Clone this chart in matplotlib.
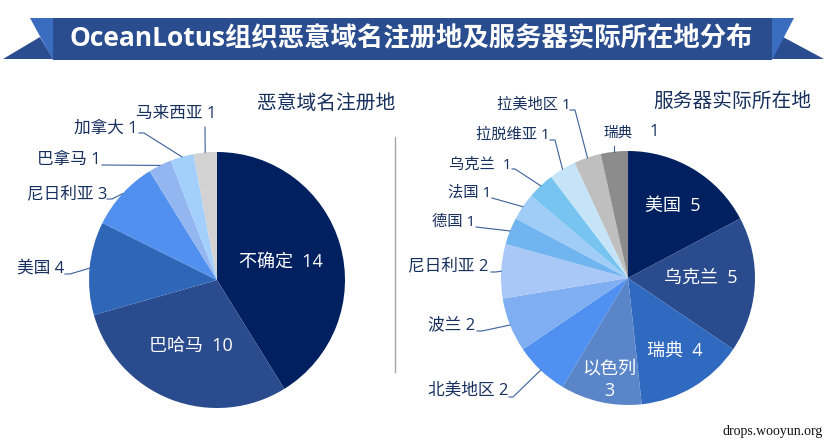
#!/usr/bin/env python3

import numpy as np
import matplotlib
matplotlib.use("Agg")
import matplotlib.pyplot as plt
from matplotlib.patches import Polygon, Rectangle

plt.rcParams['font.family'] = ['Open Sans', 'Noto Sans CJK SC', 'DejaVu Sans']

W, H = 827, 443

title = "OceanLotus组织恶意域名注册地及服务器实际所在地分布"
credit = "drops.wooyun.org"

left_title = "恶意域名注册地"
left_names = ["不确定", "巴哈马", "美国", "尼日利亚", "巴拿马", "加拿大", "马来西亚"]
left_values = [14, 10, 4, 3, 1, 1, 1]
left_colors = ["#002060", "#2a4b8d", "#2f66b8", "#5290f0", "#94b6f0", "#a3cffc", "#d2d2d2"]

right_title = "服务器实际所在地"
right_names = ["美国", "乌克兰", "瑞典", "以色列", "北美地区", "波兰", "尼日利亚",
               "德国", "法国", "乌克兰 ", "拉脱维亚", "拉美地区", "瑞典"]
right_values = [5, 5, 4, 3, 2, 2, 2, 1, 1, 1, 1, 1, 1]
right_colors = ["#002060", "#2a4b8d", "#2f69c0", "#5a85c8", "#5090f0", "#80aef2", "#a9c8f8",
                "#70b4f0", "#a0ccf8", "#78c4f0", "#c5e4f8", "#bfbfbf", "#8c8c8c"]

NAVY = "#17305e"
LEADER = "#3a5f9a"

fig = plt.figure(figsize=(W/100, H/100), dpi=100)
overlay = fig.add_axes([0, 0, 1, 1], zorder=5)
overlay.set_xlim(0, W)
overlay.set_ylim(H, 0)
overlay.axis("off")


def draw_pie(values, colors, cx, cy, r):
    ax = fig.add_axes([(cx-r)/W, 1-(cy+r)/H, 2*r/W, 2*r/H])
    wedges, _ = ax.pie(values, colors=colors, startangle=90, counterclock=False,
                       wedgeprops={"linewidth": 0})
    ax.set_xlim(-1, 1)
    ax.set_ylim(-1, 1)
    return wedges


def rim_point(wedge, cx, cy, r):
    a = np.radians((wedge.theta1+wedge.theta2)/2)
    return cx+r*np.cos(a), cy-r*np.sin(a)


def inner(x, y, name, value):
    overlay.text(x, y, f"{name}  {value}", color="white", fontsize=13, ha="center", va="center")


def outer(pie, cx, cy, r, placed, names, values):
    # label spot, where its leader starts, flat stub length, font size
    for i, (tx, ty, ex, ey, stub, size) in placed.items():
        overlay.text(tx, ty, f"{names[i]} {values[i]}", color=NAVY, fontsize=size, va="center")
        px, py = rim_point(pie[i], cx, cy, r)
        overlay.plot([ex-stub, ex, px], [ey, ey, py], color=LEADER, lw=0.8)


# banner
overlay.add_patch(Rectangle((53, 18), 719, 42, color="#2a4d8f", lw=0))
overlay.add_patch(Polygon([(3, 59), (40, 37), (53, 59)], color="#2a4d8f", lw=0))
overlay.add_patch(Polygon([(824, 59), (783, 37), (772, 59)], color="#2a4d8f", lw=0))
overlay.add_patch(Polygon([(30, 18), (53, 18), (53, 60)], color="#3a6cc0", lw=0))
overlay.add_patch(Polygon([(794, 18), (772, 18), (772, 60)], color="#3a6cc0", lw=0))
overlay.text(411, 39, title, color="white", fontsize=19, fontweight="bold", ha="center", va="center")

overlay.plot([395, 395], [137, 372], color="#a6a6a6", lw=1)
overlay.text(326, 104, left_title, color=NAVY, fontsize=14.2, ha="center", va="center")
overlay.text(732, 102, right_title, color=NAVY, fontsize=14.2, ha="center", va="center")
overlay.text(823, 431, credit, color="#111111", fontsize=10, family="Liberation Serif", ha="right", va="center")

# left pie
lcx, lcy, lr = 217, 280, 128
lw = draw_pie(left_values, left_colors, lcx, lcy, lr)
inner(281, 262, left_names[0], left_values[0])
inner(191, 346, left_names[1], left_values[1])
left_out = {2: (17, 269, 70, 274, 5, 12), 3: (27, 194, 112, 199, 5, 12), 4: (37, 160, 102, 165, 0, 12),
            5: (74, 129, 144, 133, 5, 12), 6: (136, 114, 205, 127, 0, 12)}
outer(lw, lcx, lcy, lr, left_out, left_names, left_values)

# right pie
rcx, rcy, rr = 628, 278, 127
rw = draw_pie(right_values, right_colors, rcx, rcy, rr)
inner(673, 206, right_names[0], right_values[0])
inner(701, 278, right_names[1], right_values[1])
inner(675, 351, right_names[2], right_values[2])
overlay.text(609, 380, f"{right_names[3]}\n{right_values[3]}", color="white", fontsize=13,
             ha="center", va="center", linespacing=1.3)
right_out = {4: (428, 391, 513, 397, 4, 12), 5: (428, 325, 482, 331, 5, 12), 6: (408, 266, 496, 272, 5, 12),
             7: (432, 222, 476, 227, 0, 11), 8: (448, 193, 492, 198, 0, 11), 9: (449, 165, 515, 169, 3, 11),
             10: (476, 135, 555, 140, 5, 11), 11: (497, 105, 575, 110, 5, 11)}
outer(rw, rcx, rcy, rr, right_out, right_names, right_values)
overlay.text(603, 133, f"{right_names[12]}", color=NAVY, fontsize=10.5, va="center")
overlay.text(650, 132, f"{right_values[12]}", color=NAVY, fontsize=12, va="center")
px, py = rim_point(rw[12], rcx, rcy, rr)
overlay.plot([px, px], [py-6, py], color=LEADER, lw=0.8)

fig.savefig("out.png", dpi=100)
